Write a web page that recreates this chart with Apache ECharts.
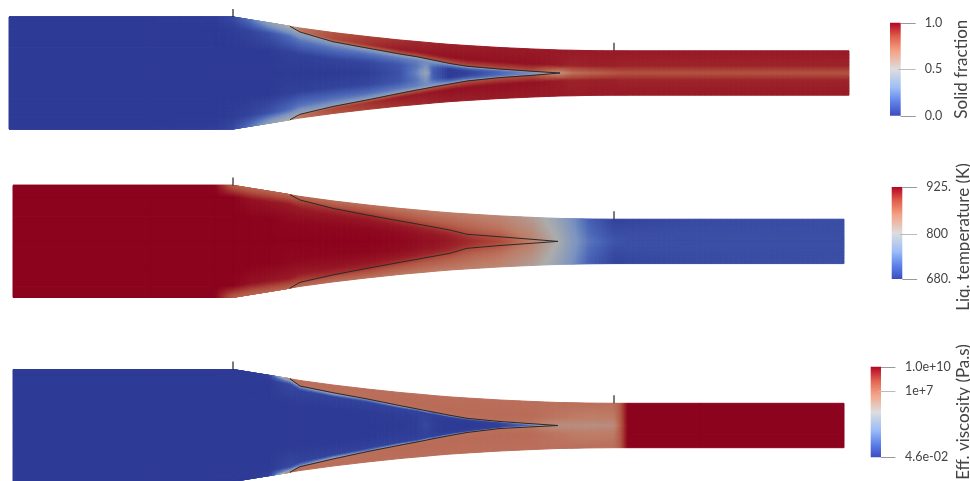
<!DOCTYPE html>
<html lang="en">
<head>
    <meta charset="UTF-8">
    <title>die-fields</title>
    <script src="https://cdn.jsdelivr.net/npm/echarts@6/dist/echarts.min.js"></script>
    <style>html,body{margin:0;padding:0;background:#fff;overflow:hidden}</style>
</head>
<body>
<div id="main" style="width:970px;height:481px;"></div>
<script>
    // stations along the flow, one list per panel
    var x1 = [9,150,215,233,250,270,290,300,333,367,400,417,427,433,450,467,500,533,560,572,590,614,620,628,700,849];
    var x2 = [13,150,215,233,250,270,290,300,333,367,400,417,427,433,450,467,500,533,558,572,590,614,620,628,700,844];
    var x3 = [13,150,215,233,250,270,290,300,333,367,400,417,427,433,450,467,500,533,558,572,590,614,620,628,700,844];

    // wall half height at each station
    var wallHalf = [56,56,56,56,53.2,50,46.7,45,40.5,36.5,33,31.5,30.6,30,28.6,27.5,25.5,24,23,22.8,22.4,22.2,22.2,22.2,22.2,22.2];

    // solidification front half height, upper and lower
    var frontUp1 = [56,56,56,56,53.2,50,46.7,41,31.3,25,19,16.3,14.2,13,9.5,6.8,4,1.7,0,0,0,0,0,0,0,0];
    var frontLo1 = [56,56,56,56,53.2,50,46.7,41.3,33.5,27,20.3,17,15.2,14,11,8,4.6,2.3,0,0,0,0,0,0,0,0];
    var frontUp2 = [56,56,56,56,53.2,50,46.7,41.4,33,26.4,20.4,17.4,15.6,14.5,11.4,7.1,4.6,2,0,0,0,0,0,0,0,0];
    var frontLo2 = [56,56,56,56,53.2,50,46.7,40.9,33.5,26.9,20.9,17.9,16,15,11.9,6.9,4.1,1.8,0,0,0,0,0,0,0,0];
    var frontUp3 = [56,56,56,56,53.2,50,46.7,39.5,32.8,26.6,19.9,16.6,14.6,13.5,10.2,7.2,4,1.7,0,0,0,0,0,0,0,0];
    var frontLo3 = [56,56,56,56,53.2,50,46.7,41.2,33.5,26.2,19.7,16.5,14.5,13.3,10,7,3,1.3,0,0,0,0,0,0,0,0];

    // normalised colour value per station: four rows in the core, three in the shell
    var solidFraction = [
        [0,0,0,0,0,0,0],
        [0,0,0,0,0,0,0],
        [0,0,0,.01,.01,.01,.01],
        [0,0,.01,.05,.05,.05,.05],
        [0,0,.03,.18,.18,.18,.18],
        [0,0,.08,.38,.38,.38,.38],
        [0,.02,.18,.5,.5,.5,.5],
        [0,.02,.2,.42,.62,.72,.72],
        [0,.03,.2,.38,.7,.85,.82],
        [.01,.04,.2,.38,.75,.9,.87],
        [.08,.1,.22,.4,.78,.95,.9],
        [.25,.2,.24,.4,.8,.95,.92],
        [.45,.32,.28,.4,.8,.96,.92],
        [.12,.15,.28,.38,.8,.96,.93],
        [0,0,.2,.38,.8,.97,.94],
        [.02,.05,.2,.4,.82,.97,.94],
        [.15,.17,.22,.4,.82,.97,.95],
        [.3,.3,.3,.42,.82,.97,.95],
        [.55,.55,.55,.55,.6,.95,.95],
        [.72,.72,.72,.72,.72,.93,.95],
        [.76,.76,.76,.76,.76,.94,.95],
        [.8,.8,.8,.8,.8,.94,.95],
        [.82,.82,.82,.82,.82,.93,.95],
        [.82,.82,.82,.82,.82,.93,.95],
        [.82,.82,.82,.82,.82,.93,.95],
        [.82,.82,.82,.82,.82,.93,.95]
    ];
    var liqTemperature = [
        [1,1,1,1,1,1,1],
        [1,1,1,1,1,1,1],
        [1,1,1,1,1,1,1],
        [1,1,1,.8,.8,.8,.8],
        [1,1,.97,.78,.78,.78,.78],
        [1,1,.96,.78,.78,.78,.78],
        [1,.99,.95,.78,.78,.78,.78],
        [1,.99,.95,.85,.85,.8,.76],
        [1,.99,.96,.9,.9,.82,.75],
        [1,.99,.96,.92,.92,.84,.74],
        [.99,.98,.95,.9,.9,.82,.72],
        [.98,.97,.94,.89,.89,.81,.71],
        [.97,.96,.93,.89,.89,.8,.71],
        [.97,.96,.93,.88,.88,.8,.7],
        [.95,.94,.91,.87,.87,.79,.7],
        [.92,.91,.89,.87,.87,.78,.69],
        [.85,.84,.83,.82,.82,.74,.66],
        [.68,.68,.68,.68,.68,.64,.57],
        [.5,.5,.5,.5,.5,.47,.42],
        [.36,.36,.36,.36,.36,.34,.3],
        [.2,.2,.2,.2,.2,.17,.13],
        [.1,.1,.1,.1,.1,.07,.03],
        [.09,.09,.09,.09,.09,.07,.03],
        [.08,.08,.08,.08,.08,.07,.04],
        [.07,.07,.07,.07,.07,.07,.06],
        [.07,.07,.07,.07,.07,.07,.07]
    ];
    var effViscosity = [
        [0,0,0,0,0,0,0],
        [0,0,0,0,0,0,0],
        [0,0,0,0,0,0,0],
        [0,0,0,0,0,0,0],
        [0,0,0,0,0,0,0],
        [0,0,0,.02,.02,.02,.02],
        [0,0,.05,.5,.65,.74,.74],
        [0,0,.03,.3,.74,.74,.74],
        [0,0,.03,.48,.74,.74,.74],
        [0,0,.03,.3,.74,.74,.74],
        [0,.01,.03,.48,.74,.75,.74],
        [.01,.01,.03,.3,.74,.75,.74],
        [.05,.03,.03,.48,.74,.75,.74],
        [.02,.01,.03,.3,.74,.75,.74],
        [0,0,.03,.48,.74,.75,.74],
        [0,0,.03,.3,.74,.75,.74],
        [.02,.02,.05,.48,.74,.75,.74],
        [.15,.2,.4,.5,.72,.75,.74],
        [.62,.62,.62,.62,.62,.72,.74],
        [.63,.63,.63,.63,.63,.7,.74],
        [.62,.62,.62,.62,.62,.69,.74],
        [.63,.63,.63,.63,.63,.7,.74],
        [.77,.77,.77,.77,.77,.79,.79],
        [1,1,1,1,1,1,1],
        [1,1,1,1,1,1,1],
        [1,1,1,1,1,1,1]
    ];

    // colour bars
    var barNames = ['Solid fraction', 'Liq. temperature (K)', 'Eff. viscosity (Pa.s)'];
    var barRanges = [[0, 1], [680, 925], [-1.337, 10]];
    var barTickValues = [[0, 0.5, 1], [680, 800, 925], [-1.337, 7, 10]];
    var barTickLabels = [['0.0', '0.5', '1.0'], ['680.', '800', '925.'], ['4.6e-02', '1e+7', '1.0e+10']];

    // cool to warm palette, the field is drawn a bit darker than the bar
    var paletteT = [0, .15, .3, .5, .7, .85, 1];
    var paletteRgb = [[59,76,192],[95,130,234],[157,189,247],[221,221,221],[244,160,132],[224,96,76],[180,4,38]];
    var fieldShade = 0.78;

    var coreRows = [[0,.45,.8,1],[0,.45,.8,1],[0,.5,.9,1]];
    var shellRows = [0,.35,1];
    var tipIndex = 18;

    var panels = [
        {x: x1, up: frontUp1, lo: frontLo1, v: solidFraction, core: coreRows[0]},
        {x: x2, up: frontUp2, lo: frontLo2, v: liqTemperature, core: coreRows[1]},
        {x: x3, up: frontUp3, lo: frontLo3, v: effViscosity, core: coreRows[2]}
    ];

    function colorAt(t, shade) {
        t = Math.max(0, Math.min(1, t));
        var k = 0;
        while (k < paletteT.length - 2 && t > paletteT[k + 1]) k++;
        var f = (t - paletteT[k]) / (paletteT[k + 1] - paletteT[k]);
        var c = [0, 1, 2].map(function (n) {
            return Math.round((paletteRgb[k][n] + (paletteRgb[k + 1][n] - paletteRgb[k][n]) * f) * shade);
        });
        return 'rgb(' + c.join(',') + ')';
    }

    function rowY(panel, i, j, side) {
        var w = side > 0 ? panel.up[i] : panel.lo[i];
        var wall = wallHalf[i];
        if (j < 4) return side * w * panel.core[j];
        return side * (w + (wall - w) * shellRows[j - 4]);
    }

    // one mesh cell, shaded smoothly between its four corner values
    function fieldRender(panel) {
        return function (params, api) {
            var i = api.value(0), j = api.value(1), side = api.value(2);
            var xa = panel.x[i], xb = panel.x[i + 1];
            var ya0 = rowY(panel, i, j, side), ya1 = rowY(panel, i, j + 1, side);
            var yb0 = rowY(panel, i + 1, j, side), yb1 = rowY(panel, i + 1, j + 1, side);
            var va0 = panel.v[i][j], va1 = panel.v[i][j + 1], vb0 = panel.v[i + 1][j], vb1 = panel.v[i + 1][j + 1];
            var flat = va0 === va1 && va0 === vb0 && va0 === vb1;
            var nx = flat ? 1 : Math.max(1, Math.ceil((xb - xa) / 2.5));
            var ny = flat ? 1 : Math.max(1, Math.ceil(Math.max(Math.abs(ya1 - ya0), Math.abs(yb1 - yb0)) / 1.5));
            var children = [];
            function pt(u, w) {
                var y0 = ya0 + (yb0 - ya0) * u, y1 = ya1 + (yb1 - ya1) * u;
                return api.coord([xa + (xb - xa) * u, y0 + (y1 - y0) * w]);
            }
            for (var a = 0; a < nx; a++) {
                for (var b = 0; b < ny; b++) {
                    var u0 = a / nx, u1 = (a + 1) / nx, w0 = b / ny, w1 = (b + 1) / ny;
                    var um = (u0 + u1) / 2, wm = (w0 + w1) / 2;
                    var val = (va0 * (1 - um) + vb0 * um) * (1 - wm) + (va1 * (1 - um) + vb1 * um) * wm;
                    var col = colorAt(val, fieldShade);
                    children.push({
                        type: 'polygon',
                        shape: {points: [pt(u0, w0), pt(u1, w0), pt(u1, w1), pt(u0, w1)]},
                        style: {fill: col, stroke: col, lineWidth: 1}
                    });
                }
            }
            return {type: 'group', children: children};
        };
    }

    function barRender(params, api) {
        var p0 = api.coord([0, api.value(1)]);
        var p1 = api.coord([1, api.value(0)]);
        var stops = paletteT.map(function (t) {
            return {offset: 1 - t, color: colorAt(t, 1)};
        }).reverse();
        return {
            type: 'rect',
            shape: {x: p0[0], y: p0[1], width: p1[0] - p0[0], height: p1[1] - p0[1]},
            style: {fill: new echarts.graphic.LinearGradient(0, 0, 0, 1, stops)}
        };
    }

    // tick mark beside a bar, the inner one starts inside the bar and is paler
    function barTickRender(params, api) {
        var inner = params.dataIndex === 1;
        var p0 = api.coord([inner ? 0.75 : 1, api.value(0)]);
        var p1 = api.coord([2.4, api.value(0)]);
        var y = Math.round(p0[1]) + 0.5;
        return {
            type: 'line',
            shape: {x1: p0[0], y1: y, x2: p1[0], y2: y},
            style: {stroke: inner ? '#bbb' : '#999', lineWidth: 1}
        };
    }

    var fieldGrids = [{top: 0, height: 146}, {top: 160, height: 162.8}, {top: 370.5, height: 110}];
    var barGrids = [
        {left: 890, width: 10.7, top: 22.7, height: 93},
        {left: 891.7, width: 10.6, top: 187, height: 92},
        {left: 870.7, width: 10.3, top: 366.7, height: 90.6}
    ];

    var grid = [], xAxis = [], yAxis = [], series = [];
    panels.forEach(function (panel, p) {
        grid.push({left: 0, width: 970, top: fieldGrids[p].top, height: fieldGrids[p].height, outerBoundsMode: 'none'});
        xAxis.push({type: 'value', min: 0, max: 970, gridIndex: p, show: false});
        var half = fieldGrids[p].height / 2;
        yAxis.push({type: 'value', min: -half, max: half, gridIndex: p, show: false});

        var cells = [];
        for (var i = 0; i < panel.x.length - 1; i++) {
            for (var j = 0; j < 6; j++) {
                if (j === 3) continue;
                cells.push([i, j, 1], [i, j, -1]);
            }
        }
        series.push({
            type: 'custom', xAxisIndex: p, yAxisIndex: p, silent: true, clip: false,
            renderItem: fieldRender(panel), data: cells, z: 1
        });

        [panel.up, panel.lo].forEach(function (front, s) {
            var sign = s === 0 ? 1 : -1;
            var pts = [];
            for (var i = 6; i <= tipIndex; i++) pts.push([panel.x[i], sign * front[i]]);
            series.push({
                type: 'line', xAxisIndex: p, yAxisIndex: p, data: pts, showSymbol: false, silent: true, clip: false,
                lineStyle: {color: '#2a2a2a', width: 1}, z: 3
            });
        });

        // die entry and exit marks
        [3, 21].forEach(function (i) {
            series.push({
                type: 'line', xAxisIndex: p, yAxisIndex: p, showSymbol: false, silent: true, clip: false,
                data: [[panel.x[i], wallHalf[i]], [panel.x[i], wallHalf[i] + 8]],
                lineStyle: {color: '#222', width: 1.2}, z: 3
            });
        });
    });

    barNames.forEach(function (name, b) {
        var g = 3 + b;
        grid.push(Object.assign({outerBoundsMode: 'none'}, barGrids[b]));
        xAxis.push({type: 'value', min: 0, max: 1, gridIndex: g, show: false});
        yAxis.push({
            type: 'value', gridIndex: g, position: 'right',
            min: barRanges[b][0], max: barRanges[b][1],
            splitLine: {show: false}, axisLine: {show: false}, axisTick: {show: false},
            axisLabel: {
                show: true, margin: 24, customValues: barTickValues[b], color: '#444',
                fontFamily: 'Lato', fontSize: 12.5,
                formatter: function (v) {
                    return barTickLabels[b][barTickValues[b].indexOf(v)];
                }
            },
            name: name, nameLocation: 'middle', nameRotate: 90, nameGap: b === 2 ? 72 : 52,
            nameTextStyle: {color: '#444', fontFamily: 'Lato', fontSize: 17, padding: b === 1 ? [0, 8, 0, 0] : 0}
        });
        series.push({
            type: 'custom', xAxisIndex: g, yAxisIndex: g, silent: true,
            renderItem: barRender, data: [barRanges[b]], encode: {y: [0, 1]}
        });
        series.push({
            type: 'custom', xAxisIndex: g, yAxisIndex: g, silent: true, clip: false, z: 3,
            renderItem: barTickRender,
            data: barTickValues[b].map(function (v) { return [v]; }),
            encode: {y: 0}
        });
    });

    var chart = echarts.init(document.getElementById('main'));
    chart.setOption({
        animation: false,
        backgroundColor: '#fff',
        grid: grid,
        xAxis: xAxis,
        yAxis: yAxis,
        series: series
    });
</script>
</body>
</html>
